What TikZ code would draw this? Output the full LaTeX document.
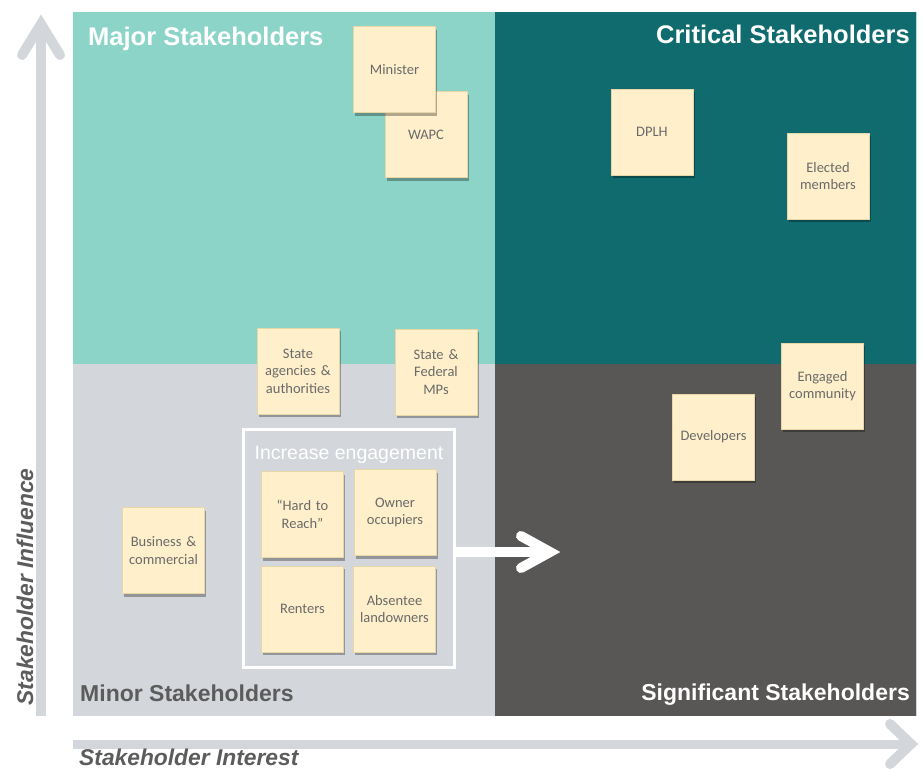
\documentclass[tikz,border=0pt]{standalone}
\usepackage{fontspec}
\setmainfont{Liberation Sans}
\newfontfamily\notefont{Carlito}
\usetikzlibrary{shadows}
\definecolor{tealL}{HTML}{8DD4C8}
\definecolor{tealD}{HTML}{106B6E}
\definecolor{grayL}{HTML}{D3D6DA}
\definecolor{grayD}{HTML}{595755}
\definecolor{sticky}{HTML}{FFF0CB}
\definecolor{stickyedge}{HTML}{E6D6A8}
\definecolor{notetext}{HTML}{6A6A6A}
\definecolor{axistext}{HTML}{5C5C5C}
\definecolor{axisgray}{HTML}{D3D6DA}
\begin{document}
\begin{tikzpicture}[x=1pt,y=-1pt,
  note/.style={draw=stickyedge, line width=0.4pt, fill=sticky,
    minimum width=82pt, minimum height=86pt, inner sep=1pt,
    text width=80pt, align=center, text=notetext,
    font=\notefont\fontsize{14.5}{17.5}\selectfont,
    drop shadow={shadow xshift=1.5pt, shadow yshift=-3pt, opacity=0.3, fill=black}},
  header/.style={inner sep=0pt, font=\bfseries\fontsize{25.5}{30}\selectfont, text=white},
  subheader/.style={inner sep=0pt, font=\bfseries\fontsize{23}{28}\selectfont},
  axislabel/.style={inner sep=0pt, font=\bfseries\itshape\fontsize{22.8}{27}\selectfont, text=axistext},
  axisline/.style={draw=axisgray, line width=10pt, line cap=round, line join=miter},
  bigarrow/.style={draw=white, line width=10pt, line join=miter}
]
\useasboundingbox (0,0) rectangle (922,769);

% quadrants
\fill[tealL] (73,12) rectangle (495,364);
\fill[tealD] (495,12) rectangle (916,364);
\fill[grayL] (73,364) rectangle (495,716);
\fill[grayD] (495,364) rectangle (916,716);
\draw[tealL!70, line width=1pt] (916.5,12) -- (916.5,364);
\draw[grayL, line width=1pt] (916.5,364) -- (916.5,716);

% headers
\node[header, anchor=base west] (hmajor) at (88,45) {Major Stakeholders};
\node[header, anchor=base east] (hcrit) at (910,43) {Critical Stakeholders};
\node[subheader, anchor=base west, text=axistext] (hminor) at (80,701) {Minor Stakeholders};
\node[subheader, anchor=base east, text=white] (hsig) at (910,700) {Significant Stakeholders};

% axes
\coordinate (vbot) at (41,716);
\coordinate (vtip) at (41,24);
\draw[axisline, line cap=butt] (vbot) -- (vtip);
\draw[axisline] (22,55) -- (vtip) -- (60,55);
\coordinate (hleft) at (73,744);
\coordinate (htip) at (911,744);
\draw[axisline, line cap=butt, line width=9pt] (hleft) -- (htip);
\draw[axisline] (890,724) -- (htip) -- (890,764);

\node[axislabel, anchor=base, rotate=90] (influence) at (33,587) {Stakeholder Influence};
\node[axislabel, anchor=base west] (interest) at (79,765) {Stakeholder Interest};

% engagement box
\draw[white, line width=3pt] (243.5,429.5) rectangle (454,667);
\coordinate (boxright) at (455,552);
\node[inner sep=0pt, anchor=base, text=white, font=\fontsize{19.5}{23}\selectfont] (incr) at (349,459) {Increase engagement};

% arrow
\coordinate (atip) at (550,552);
\draw[bigarrow] (boxright) -- (atip);
\draw[bigarrow, line cap=round] (521,536) -- (atip) -- (521,568);

% sticky notes
\node[note] (wapc) at (426,134.5) {WAPC};
\node[note] (minister) at (394.5,69.5) {Minister};
\node[note] (dplh) at (652,132) {DPLH};
\node[note] (elected) at (828,176) {Elected\\members};
\node[note] (agencies) at (298,371) {State\\agencies \&\\authorities};
\node[note] (mps) at (436,372) {State \&\\Federal\\MPs};
\node[note] (hard) at (302.5,514.5) {“Hard to\\Reach”};
\node[note] (owner) at (395,512.5) {Owner\\occupiers};
\node[note] (renters) at (302.5,609) {Renters};
\node[note] (absentee) at (394.5,609) {Absentee\\landowners};
\node[note] (engaged) at (822.5,386) {Engaged\\community};
\node[note] (developers) at (713.5,437) {Developers};
\node[note] (business) at (163.5,550.5) {Business \&\\commercial};
\end{tikzpicture}
\end{document}
